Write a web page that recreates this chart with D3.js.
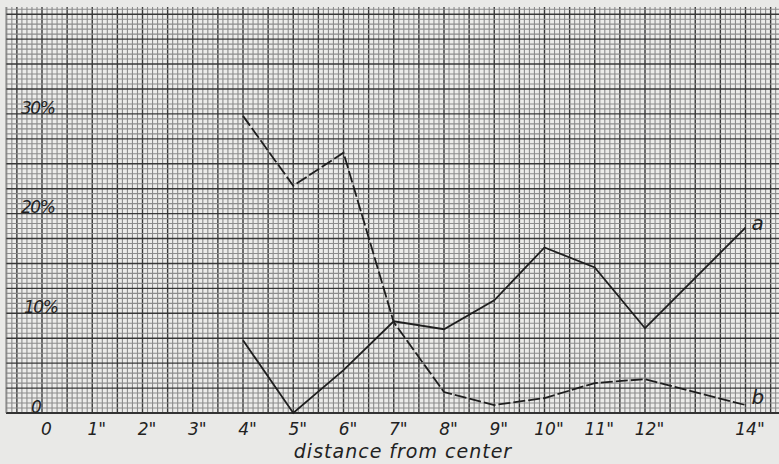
<!DOCTYPE html>
<html>
<head>
<meta charset="utf-8">
<script src="https://cdn.jsdelivr.net/npm/d3@7"></script>
<style>
body { margin: 0; background: #e9e9e7; }
text { font-family: "DejaVu Sans", sans-serif; font-style: italic; fill: #222; }
</style>
</head>
<body>
<div id="chart"></div>
<script>
var svgWidth = 779;
var svgHeight = 464;

// inches from center
var distances = [4, 5, 6, 7, 8, 9, 10, 11, 12, 14];
// percent values
var seriesA = [7.3, 0, 4.3, 9.2, 8.4, 11.3, 16.6, 14.6, 8.5, 18.6];
var seriesB = [29.8, 22.8, 26.1, 9.1, 2.1, 0.8, 1.5, 3.0, 3.4, 0.8];

var xTickValues = [0, 1, 2, 3, 4, 5, 6, 7, 8, 9, 10, 11, 12, 14];
var xTickLabels = ["0", "1\"", "2\"", "3\"", "4\"", "5\"", "6\"", "7\"", "8\"", "9\"", "10\"", "11\"", "12\"", "14\""];
var yTickValues = [0, 10, 20, 30];
var yTickLabels = ["0", "10%", "20%", "30%"];

var svg = d3.select("#chart")
    .append("svg")
    .attr("width", svgWidth)
    .attr("height", svgHeight);

// 1 inch = 50.25px, 0 at x=42 ; 10% = 99.7px, 0 at y=413
var xScale = d3.scaleLinear()
    .domain([0, 14])
    .range([42, 42 + 14 * 50.25]);

var yScale = d3.scaleLinear()
    .domain([0, 40])
    .range([413, 413 - 4 * 99.7]);

var gridLeft = 6, gridRight = svgWidth, gridTop = 7, gridBottom = 413;

svg.append("rect")
    .attr("x", gridLeft)
    .attr("y", gridTop)
    .attr("width", gridRight - gridLeft)
    .attr("height", gridBottom - gridTop)
    .attr("fill", "#ececea");

var grid = svg.append("g");

// minor grid: every 0.1 inch, every 0.5 %
var xMinor = d3.range(-7, 148).map(d => d / 10);
var yMinor = d3.range(0, 82).map(d => d / 2);

grid.selectAll("line.vmin")
    .data(xMinor)
    .enter()
    .append("line")
    .attr("x1", d => xScale(d))
    .attr("x2", d => xScale(d))
    .attr("y1", gridTop)
    .attr("y2", gridBottom)
    .attr("stroke", d => (Math.round(d * 10) % 5 === 0) ? "#383838" : "#8c8c8c")
    .attr("stroke-width", d => (Math.round(d * 10) % 5 === 0) ? 1.4 : 1.1);

grid.selectAll("line.hmin")
    .data(yMinor)
    .enter()
    .append("line")
    .attr("x1", gridLeft)
    .attr("x2", gridRight)
    .attr("y1", d => yScale(d))
    .attr("y2", d => yScale(d))
    .attr("stroke", d => (Math.round(d * 2) % 5 === 0) ? "#383838" : "#8c8c8c")
    .attr("stroke-width", d => (Math.round(d * 2) % 5 === 0) ? 1.4 : 1.1);

// bottom border
svg.append("line")
    .attr("x1", gridLeft).attr("x2", gridRight)
    .attr("y1", gridBottom).attr("y2", gridBottom)
    .attr("stroke", "#333")
    .attr("stroke-width", 2);

svg.append("line")
    .attr("x1", gridLeft).attr("x2", gridLeft)
    .attr("y1", gridTop).attr("y2", gridBottom)
    .attr("stroke", "#777")
    .attr("stroke-width", 1);

// axis labels (axis with no lines)
var bottomAxis = d3.axisBottom(xScale)
    .tickValues(xTickValues)
    .tickFormat((d, i) => xTickLabels[i])
    .tickSize(0)
    .tickPadding(10);

var xAxisG = svg.append("g")
    .attr("transform", `translate(0, ${gridBottom})`)
    .call(bottomAxis);
xAxisG.select(".domain").remove();
xAxisG.selectAll("text")
    .attr("font-size", 17)
    .attr("font-family", "DejaVu Sans")
    .attr("font-style", "italic")
    .attr("fill", "#222")
    .attr("dx", "4");

var leftAxis = d3.axisLeft(yScale)
    .tickValues(yTickValues)
    .tickFormat((d, i) => yTickLabels[i])
    .tickSize(0)
    .tickPadding(0);

var yAxisG = svg.append("g")
    .attr("transform", "translate(21, 0)")
    .call(leftAxis);
yAxisG.select(".domain").remove();
yAxisG.selectAll("text")
    .attr("text-anchor", "start")
    .attr("font-size", 17)
    .attr("font-family", "DejaVu Serif")
    .attr("font-style", "italic")
    .attr("fill", "#222")
    .attr("dx", d => d === 0 ? 10 : (d === 10 ? 3 : 0))
    .attr("dy", "-0.05em")
    .attr("letter-spacing", "-1.5");

svg.append("text")
    .text("distance from center")
    .attr("x", 403)
    .attr("y", 458)
    .attr("text-anchor", "middle")
    .attr("font-size", 19)
    .attr("letter-spacing", "1");

var line = d3.line()
    .x(d => xScale(d[0]))
    .y(d => yScale(d[1]));

svg.append("path")
    .datum(distances.map((d, i) => [d, seriesA[i]]))
    .attr("d", line)
    .attr("fill", "none")
    .attr("stroke", "#1e1e1e")
    .attr("stroke-width", 1.8);

svg.append("path")
    .datum(distances.map((d, i) => [d, seriesB[i]]))
    .attr("d", line)
    .attr("fill", "none")
    .attr("stroke", "#1e1e1e")
    .attr("stroke-width", 1.8)
    .attr("stroke-dasharray", "12,3");

svg.append("text")
    .text("a")
    .attr("x", xScale(14) + 6)
    .attr("y", yScale(seriesA[seriesA.length - 1]) + 2)
    .attr("font-size", 20);

svg.append("text")
    .text("b")
    .attr("x", xScale(14) + 6)
    .attr("y", yScale(seriesB[seriesB.length - 1]) - 1)
    .attr("font-size", 20);
</script>
</body>
</html>
